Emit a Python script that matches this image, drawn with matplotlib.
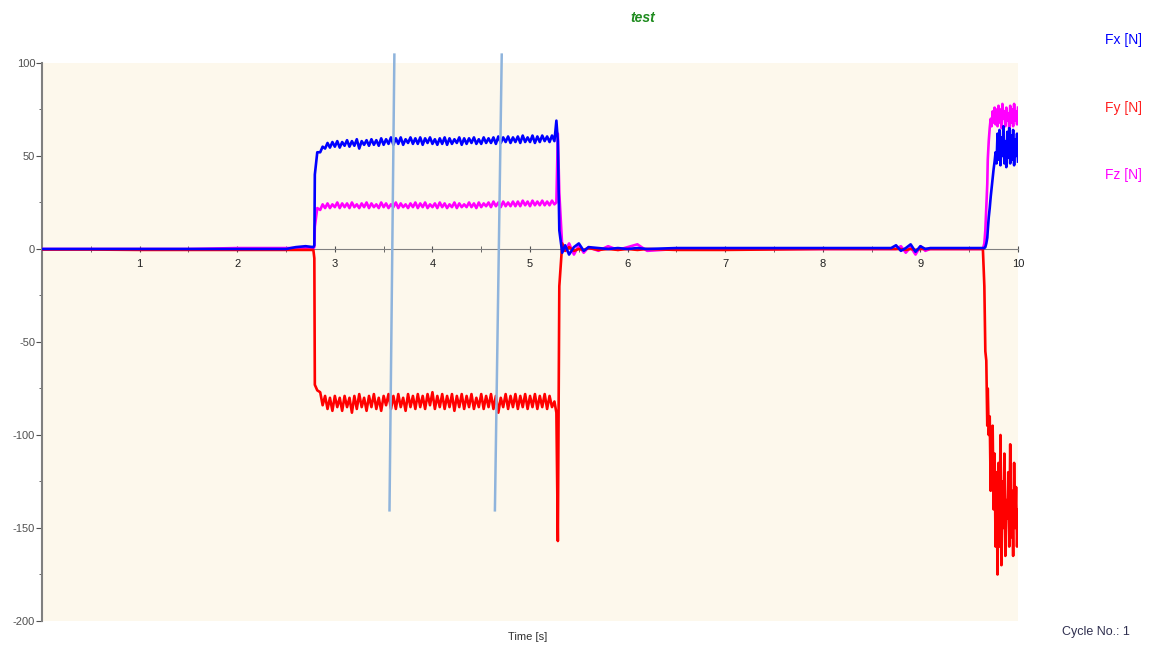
import numpy as np
import matplotlib.pyplot as plt
from matplotlib.ticker import MultipleLocator

# sample times [s], shared by all three channels
time = [0.0, 0.5, 1.0, 1.5, 2.0, 2.5, 2.6, 2.7, 2.78,
        2.79, 2.795, 2.82,
        # plateau
        2.850, 2.875, 2.900, 2.925, 2.950, 2.975, 3.000, 3.025, 3.050, 3.075,
        3.100, 3.125, 3.150, 3.175, 3.200, 3.225, 3.250, 3.275, 3.300, 3.325,
        3.350, 3.375, 3.400, 3.425, 3.450, 3.475, 3.500, 3.525, 3.550, 3.575,
        3.600, 3.625, 3.650, 3.675, 3.700, 3.725, 3.750, 3.775, 3.800, 3.825,
        3.850, 3.875, 3.900, 3.925, 3.950, 3.975, 4.000, 4.025, 4.050, 4.075,
        4.100, 4.125, 4.150, 4.175, 4.200, 4.225, 4.250, 4.275, 4.300, 4.325,
        4.350, 4.375, 4.400, 4.425, 4.450, 4.475, 4.500, 4.525, 4.550, 4.575,
        4.600, 4.625, 4.650, 4.675, 4.700, 4.725, 4.750, 4.775, 4.800, 4.825,
        4.850, 4.875, 4.900, 4.925, 4.950, 4.975, 5.000, 5.025, 5.050, 5.075,
        5.100, 5.125, 5.150, 5.175, 5.200, 5.225, 5.250,
        # release
        5.27, 5.285, 5.30, 5.33,
        5.36, 5.40, 5.45, 5.50, 5.55, 5.60, 5.70, 5.80, 5.90, 6.00, 6.10, 6.20, 6.50, 7.00, 8.00, 8.70,
        8.75, 8.80, 8.85, 8.90, 8.95, 9.00, 9.05, 9.10,
        9.30, 9.64,
        9.655, 9.665, 9.675, 9.685,
        # second load
        9.69, 9.70, 9.71, 9.72, 9.73, 9.74, 9.75, 9.76, 9.77, 9.78,
        9.79, 9.80, 9.81, 9.82, 9.83, 9.84, 9.85, 9.86, 9.87, 9.88,
        9.89, 9.90, 9.91, 9.92, 9.93, 9.94, 9.95, 9.96, 9.97, 9.98,
        9.99, 10.00]

fx = [0, 0, 0, 0, 0, 0, 1, 1.5, 1,
      2, 40, 52,
      52, 55, 54, 57, 54.5, 57.5, 55, 58, 54.5, 57.5,
      55.5, 58.5, 55, 58, 55.5, 59, 54, 58, 56, 58.5,
      55.5, 59, 56, 58.5, 55.5, 59.5, 56, 59, 56.5, 60,
      56, 59.5, 56.5, 60, 56, 59, 57, 60, 56.5, 59.5,
      56.5, 60, 56, 59.5, 57, 60, 56.5, 59, 56, 59.5,
      56.5, 60, 56, 59.5, 56.5, 59, 57, 60, 56, 59.5,
      56.5, 59.5, 57, 60, 56.5, 59, 56.5, 60, 57, 59.5,
      57, 60, 56.5, 60.5, 57, 60, 57.5, 60.5, 57, 60,
      57.5, 60.5, 57, 61, 57.5, 60, 57.5, 61, 57, 60.5,
      57.5, 61, 58, 60.5, 57.5, 61, 58,
      69, 58, 10, -2,
      2, -3, 1, 3, -1, 1, 0.5, 0, 0.5, 0, 0.5, 0, 0.5, 0.5, 0.5, 0.5,
      2, -1, 0.5, 2.5, -1.5, 1.5, 0, 0.5,
      0.5, 0.5,
      0.5, 1, 3, 6,
      10, 17, 22, 28, 33, 38, 43, 47, 52, 46,
      62, 48, 64, 45, 60, 50, 66, 46, 58, 44,
      63, 49, 65, 46, 61, 48, 64, 45, 59, 50,
      62, 47]

fy = [-0.3, -0.3, -0.5, -0.5, -0.5, -0.5, -0.5, -0.5, -0.5,
      -5, -73, -76,
      -77, -84, -79, -86, -80, -87, -79, -85, -80, -87,
      -79, -85, -80, -88, -79, -86, -78, -85, -80, -87,
      -79, -85, -78, -86, -80, -87, -79, -84, -78, -86,
      -79, -86, -78, -85, -80, -87, -78, -85, -79, -86,
      -78, -85, -79, -86, -78, -84, -77, -86, -79, -85,
      -78, -86, -79, -85, -78, -87, -79, -85, -78, -86,
      -79, -85, -78, -86, -80, -85, -78, -86, -79, -85,
      -78, -86, -79, -88, -80, -85, -78, -86, -79, -85,
      -78, -86, -79, -85, -78, -86, -79, -85, -78, -86,
      -79, -85, -78, -86, -79, -85, -82,
      -88, -157, -20, 3,
      -1, 1, -1, 0, -0.5, 0.5, -0.5, 0, -0.5, 0, -0.5, 0, -0.5, -0.5, 0, 0,
      0, 0, -0.5, 0, -0.5, 0, 0, 0,
      0, 0,
      -20, -55, -60, -95,
      -75, -100, -90, -130, -105, -95, -140, -110, -160, -120,
      -175, -115, -160, -100, -170, -125, -150, -110, -165, -135,
      -145, -120, -160, -105, -155, -130, -165, -115, -150, -128,
      -160, -140]

fz = [0, 0, 0, 0, 0.5, 0.5, 0.5, 0.5, 0.5,
      1, 12, 22,
      21, 24, 22, 24.5, 22, 24, 22.5, 25, 22, 24.5,
      22.5, 24.5, 22, 25, 22.5, 24, 22, 24.5, 22.5, 25,
      22, 24.5, 22.5, 24, 22, 25, 22.5, 24.5, 22, 24,
      22.5, 25, 22, 24.5, 22.5, 24, 22, 24.5, 22.5, 25,
      22, 24.5, 22.5, 25, 22, 24, 22.5, 24.5, 22, 25,
      22.5, 24.5, 22, 24, 22.5, 25, 22, 24.5, 22.5, 24,
      22.5, 25, 22.5, 24.5, 22, 25, 22.5, 24.5, 23, 25,
      22.5, 25.5, 23, 25, 22.5, 25.5, 23, 25, 23, 25.5,
      23, 25.5, 23, 26, 23.5, 25.5, 23, 26, 23.5, 25.5,
      23.5, 26, 23.5, 25.5, 23.5, 26, 24,
      25, 62, 30, 1,
      -1, 3, -3, 2, -2, 1, -1, 1.5, -0.5, 1, 2.5, -1, 0, 0, 0, 0,
      0, 1.5, -2, 1, -3, 1.5, -1, 0,
      0, 0,
      3, 10, 22, 35,
      48, 58, 65, 70, 66, 74, 68, 76, 67, 75,
      66, 77, 68, 75, 65, 78, 70, 74, 66, 76,
      69, 73, 65, 77, 68, 75, 66, 78, 69, 74,
      67, 76]

assert len(time) == len(fx) == len(fy) == len(fz)

# cursor lines (time at top / bottom, force at top / bottom)
cursor_t = [(3.61, 3.56), (4.71, 4.64)]
cursor_f = (104.5, -140.5)

plt.rcParams['font.family'] = ['Liberation Sans', 'DejaVu Sans']
plt.rcParams['axes.unicode_minus'] = False

fig = plt.figure(figsize=(11.52, 6.46), dpi=100)
ax = fig.add_axes([0.0365, 0.0387, 0.8472, 0.8638])
ax.set_facecolor('#fdf8ec')

ax.plot(time, fz, color='#ff00ff', lw=1.9, zorder=3)
ax.plot(time, fy, color='#ff0000', lw=1.9, zorder=3)
ax.plot(time, fx, color='#0000ff', lw=1.9, zorder=4)

for t in cursor_t:
    ax.plot(t, cursor_f, color='#8fb4dc', lw=1.8, clip_on=False, zorder=5)

ax.set_xlim(0, 10)
ax.set_ylim(-200, 100)

for s in ['top', 'right']:
    ax.spines[s].set_visible(False)
ax.spines['bottom'].set_position(('data', 0))
ax.spines['bottom'].set_color('#808080')
ax.spines['left'].set_color('#808080')
ax.spines['left'].set_linewidth(1.5)

ax.set_xticks(range(1, 11))
ax.xaxis.set_minor_locator(MultipleLocator(0.5))
ax.yaxis.set_major_locator(MultipleLocator(50))
ax.yaxis.set_minor_locator(MultipleLocator(25))
ax.tick_params(axis='x', which='both', direction='inout', length=4, color='#505050',
               labelsize=8, labelcolor='#202020', pad=5)
ax.tick_params(axis='y', which='major', length=4, color='#505050', labelsize=8,
               labelcolor='#505050', pad=1)
ax.tick_params(axis='y', which='minor', length=2, color='#505050')

fig.text(643 / 1152, 1 - 18 / 646, 'test', color='#1e8b1e', fontsize=10,
         fontstyle='italic', fontweight='bold', ha='center', va='center')
fig.text(1105 / 1152, 1 - 40 / 646, 'Fx [N]', color='#0000ff', fontsize=10, va='center')
fig.text(1105 / 1152, 1 - 108 / 646, 'Fy [N]', color='#ff2020', fontsize=10, va='center')
fig.text(1105 / 1152, 1 - 175 / 646, 'Fz [N]', color='#ff00ff', fontsize=10, va='center')
fig.text(528 / 1152, 1 - 637 / 646, 'Time [s]', color='#303030', fontsize=8,
         ha='center', va='center')
fig.text(1062 / 1152, 1 - 632 / 646, 'Cycle No.: 1', color='#303050', fontsize=9,
         va='center')

fig.savefig('out.png', dpi=100)
